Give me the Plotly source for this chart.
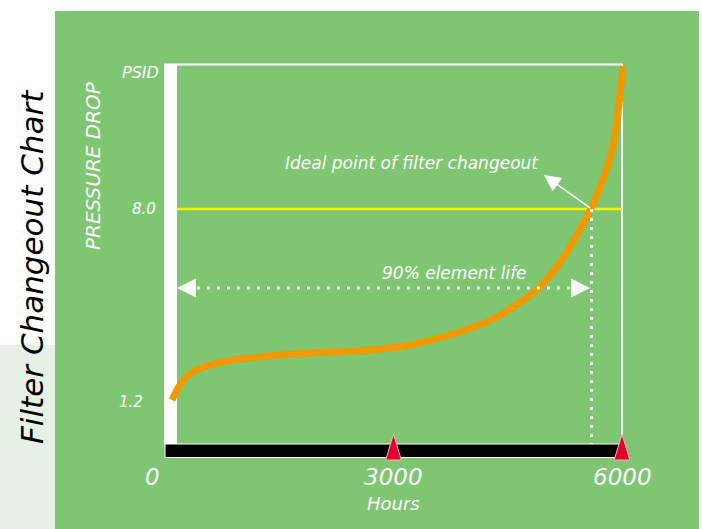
import plotly.graph_objects as go

# ---------------- data ----------------
hours = [92, 197, 368, 591, 814, 1247, 1904, 2560, 3217, 3742, 4333, 4910, 5252, 5590, 5751, 5869, 5934, 6013]
pressure_psid = [1.27, 1.80, 2.26, 2.50, 2.64, 2.79, 2.93, 3.00, 3.21, 3.56, 4.16, 5.22, 6.38, 8.0, 9.06, 10.08, 11.10, 13.04]

x_ticks = [0, 3000, 6000]
x_tick_labels = ["0", "3000", "6000"]
marker_hours = [3000, 6000]

y_ticks = [1.2, 8.0]
y_tick_labels = ["1.2", "8.0"]

changeout_psid = 8.0
changeout_hours = 5600
life_psid = 5.22

# ---------------- layout geometry (pixels) ----------------
W, H = 702, 529
PX_X0, PX_X6000 = 165, 622      # pixel columns of 0 h and 6000 h
PX_Y12, PX_Y80 = 402, 209       # pixel rows of 1.2 and 8.0 psid
KX = 6000.0 / (PX_X6000 - PX_X0)
KY = (8.0 - 1.2) / (PX_Y12 - PX_Y80)


def X(px):
    return (px - PX_X0) * KX


def Y(py):
    return 1.2 + (PX_Y12 - py) * KY


GREEN = "#7fc673"
MINT = "#e6f0e5"
WHITE = "#ffffff"
ORANGE = "#f09a00"
YELLOW = "#f4f400"
RED = "#e3002b"
FONT = "DejaVu Sans"

fig = go.Figure()

# pressure curve
fig.add_trace(go.Scatter(x=hours, y=pressure_psid, mode="lines",
                         line=dict(color=ORANGE, width=7, shape="spline", smoothing=0.8),
                         hoverinfo="skip"))

# dotted vertical at change-out
fig.add_trace(go.Scatter(x=[changeout_hours, changeout_hours], y=[changeout_psid, Y(444)],
                         mode="lines", line=dict(color=WHITE, width=3, dash="3px,6px"),
                         hoverinfo="skip"))

# dotted 90% life line with arrowheads
fig.add_trace(go.Scatter(x=[X(197), X(571)], y=[life_psid, life_psid],
                         mode="lines", line=dict(color=WHITE, width=3, dash="3px,7px"),
                         hoverinfo="skip"))
fig.add_trace(go.Scatter(x=[X(177), X(590)], y=[life_psid, life_psid], mode="markers",
                         marker=dict(symbol=["arrow-left", "arrow-right"], size=19, color=WHITE,
                                     line=dict(width=0)),
                         hoverinfo="skip"))

# red triangles on hour axis
half = 7.8 * KX
tx, ty = [], []
for t in marker_hours:
    tx += [t - half, t, t + half, t - half, None]
    ty += [Y(460), Y(434), Y(460), Y(460), None]
fig.add_trace(go.Scatter(x=tx, y=ty, mode="lines", fill="toself", fillcolor=RED,
                         line=dict(color="#f3b7c2", width=1), hoverinfo="skip"))

shapes = [
    dict(type="rect", xref="paper", yref="paper", x0=0, x1=55 / W, y0=0, y1=1 - 345 / H,
         fillcolor=MINT, line=dict(width=0), layer="below"),
    dict(type="rect", xref="paper", yref="paper", x0=55 / W, x1=699 / W, y0=0, y1=1 - 11 / H,
         fillcolor=GREEN, line=dict(width=0), layer="below"),
    # frame
    dict(type="line", x0=X(164), x1=X(623), y0=Y(64.5), y1=Y(64.5), line=dict(color=WHITE, width=2), layer="below"),
    dict(type="line", x0=X(622), x1=X(622), y0=Y(64), y1=Y(445), line=dict(color=WHITE, width=2), layer="below"),
    dict(type="rect", x0=X(164), x1=X(177), y0=Y(445), y1=Y(64), fillcolor=WHITE, line=dict(width=0), layer="below"),
    dict(type="rect", x0=X(165), x1=X(622), y0=Y(457.5), y1=Y(444), fillcolor="black",
         line=dict(color=WHITE, width=1), layer="below"),
    # 8.0 psid change-out level
    dict(type="line", x0=X(177), x1=X(622), y0=changeout_psid, y1=changeout_psid,
         line=dict(color=YELLOW, width=2.5), layer="below"),
]

it = dict(family=FONT, color=WHITE, style="italic")
C = dict(xanchor="center", yanchor="middle", showarrow=False)
ann = []
ann.append(dict(C, text="Filter Changeout Chart", xref="paper", yref="paper", x=32 / W, y=1 - 267 / H,
                textangle=-90, font=dict(family=FONT, size=31, color="black", style="italic")))
ann.append(dict(C, text="PRESSURE DROP", xref="paper", yref="paper", x=93 / W, y=1 - 166 / H,
                textangle=-90, font=dict(it, size=20)))
ann.append(dict(C, text="PSID", x=X(161), y=Y(72), xanchor="right", font=dict(it, size=16)))
y_label_right_px = [145, 158]
for v, lab, rp in zip(y_ticks, y_tick_labels, y_label_right_px):
    ann.append(dict(C, text=lab, x=X(rp), y=v, xanchor="right", font=dict(it, size=15)))
x_label_shift = [-13, 0, 0]
for v, lab, sh in zip(x_ticks, x_tick_labels, x_label_shift):
    ann.append(dict(C, text=lab, x=v, y=Y(477), xshift=sh, font=dict(it, size=23)))
ann.append(dict(C, text="Hours", x=3000, y=Y(503), font=dict(it, size=18)))
ann.append(dict(C, text="Ideal point of filter changeout", x=X(412), y=Y(163), font=dict(it, size=17)))
ann.append(dict(C, text="90% element life", x=X(454), y=Y(273), font=dict(it, size=17)))
ann.append(dict(text="", x=X(544), y=Y(175), ax=changeout_hours, ay=changeout_psid, axref="x", ayref="y",
                showarrow=True, arrowhead=2, arrowsize=2.2, arrowwidth=1.5, arrowcolor=WHITE))

fig.update_layout(
    width=W, height=H, margin=dict(l=0, r=0, t=0, b=0),
    paper_bgcolor=WHITE, plot_bgcolor="rgba(0,0,0,0)",
    showlegend=False, shapes=shapes, annotations=ann,
    xaxis=dict(range=[X(0), X(W)], visible=False, fixedrange=True),
    yaxis=dict(range=[Y(H), Y(0)], visible=False, fixedrange=True),
)

fig.write_html("out.html", config={"displayModeBar": False},
               post_script="document.body.style.margin='0px';document.body.style.overflow='hidden';")
